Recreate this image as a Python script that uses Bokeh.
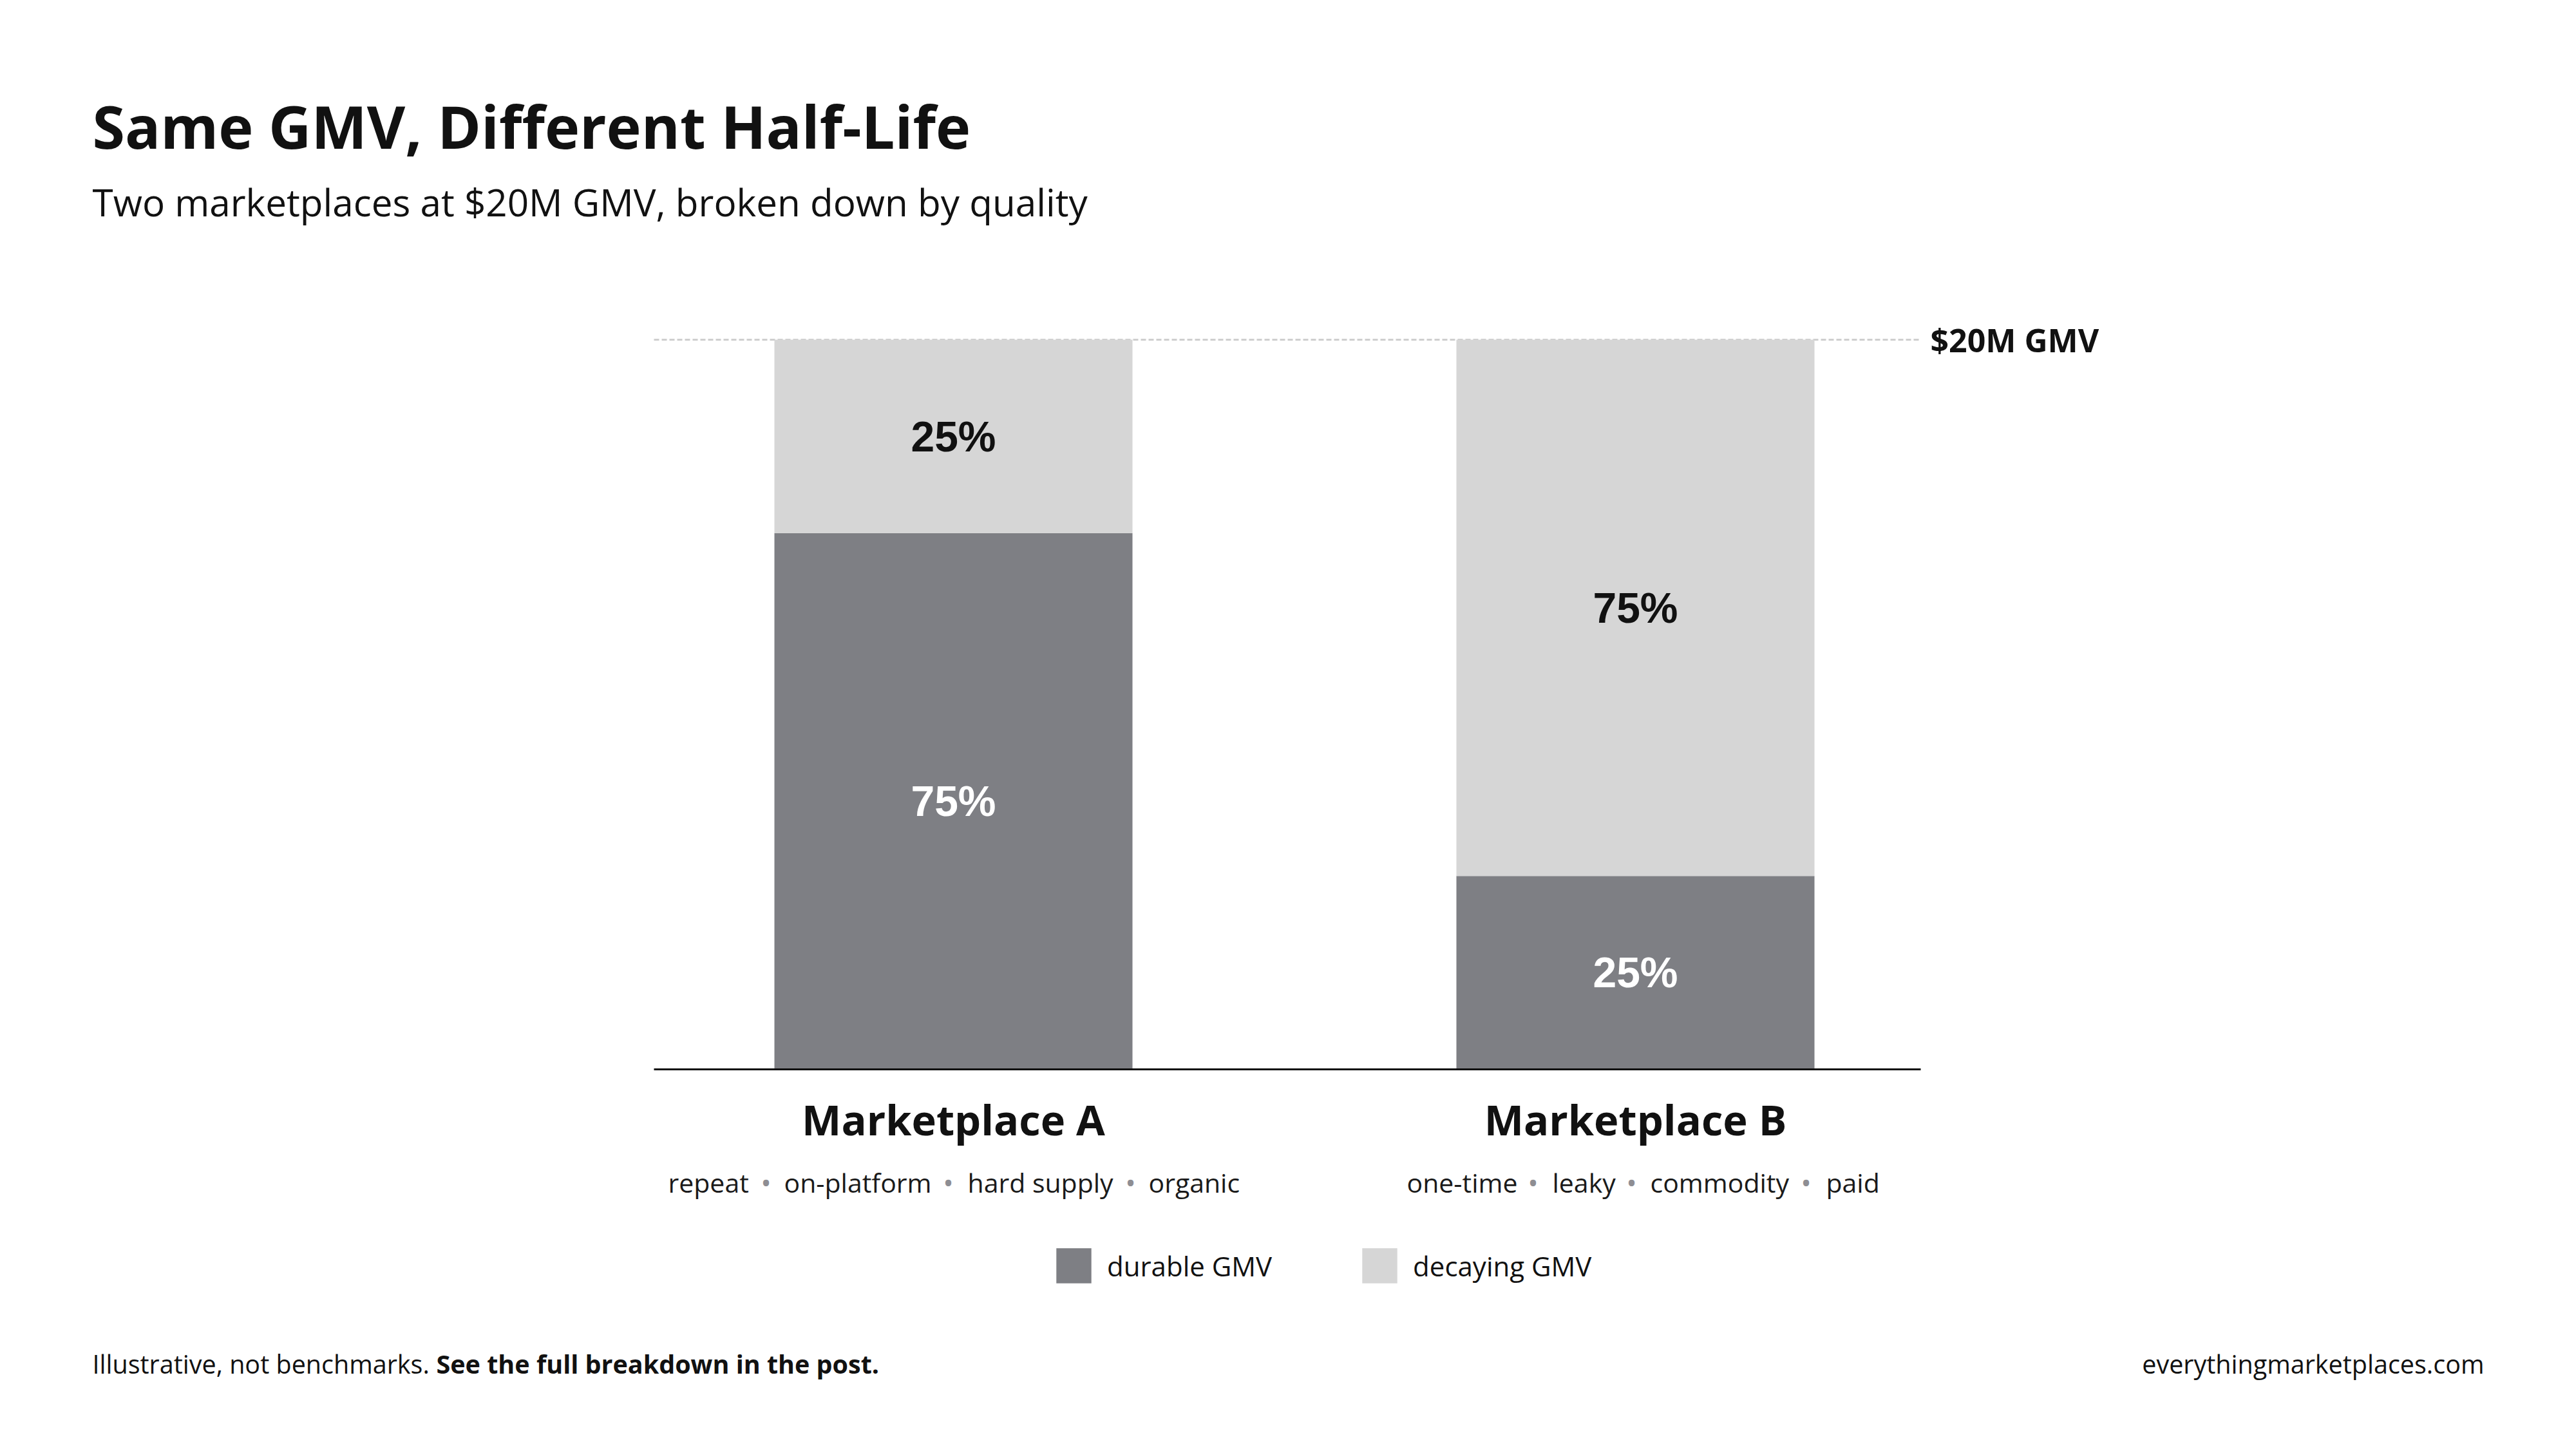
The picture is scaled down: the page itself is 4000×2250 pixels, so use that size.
from bokeh.plotting import figure
from bokeh.models import Range1d, Label, Legend, LegendItem, ColumnDataSource
from bokeh.core.properties import value
from bokeh.embed import file_html
from bokeh.resources import INLINE

# ---------------- data ----------------
categories = ["Marketplace A", "Marketplace B"]
descriptor_words = [["repeat", "on-platform", "hard supply", "organic"],
                    ["one-time", "leaky", "commodity", "paid"]]
durable_gmv = [14.7, 5.3]     # $M
decaying_gmv = [5.3, 14.7]    # $M
durable_pct = ["75%", "25%"]
decaying_pct = ["25%", "75%"]
total_gmv = 20
total_label = "$20M GMV"
series_names = ["durable GMV", "decaying GMV"]

# ---------------- styles / layout ----------------
DARK = "#7e7f84"
LIGHT = "#d6d6d6"
INK = "#111111"
BULLET = "#8e8e93"
FONT = "Open Sans"
PCT_FONT = "Liberation Sans"

W, H = 3984, 2234
# pixel anchors of the chart area on the canvas
PX_FIRST = 1480      # centre of first category
PX_STEP = 1059       # distance between category centres
PY_ZERO = 1660       # baseline (0)
PY_TOP = 527         # total GMV line
AXIS_PX0, AXIS_PX1 = 1015, 2982
BAR_W = 556 / PX_STEP
# horizontal layout of descriptor words / separators (canvas px)
WORD_PX = [[1037, 1217, 1502, 1783], [2184, 2410, 2562, 2835]]
SEP_PX = [[1189, 1472, 1755], [2380, 2533, 2804]]

X_START = -PX_FIRST / PX_STEP
X_END = (W - PX_FIRST) / PX_STEP
YS = (PY_ZERO - PY_TOP) / total_gmv
Y_START = -(H - PY_ZERO) / YS
Y_END = PY_ZERO / YS

def dx(px):
    return X_START + px / PX_STEP
def dy(py):
    return Y_END - py / YS

p = figure(width=W, height=H, output_backend="svg", toolbar_location=None,
           x_range=Range1d(X_START, X_END), y_range=Range1d(Y_START, Y_END),
           x_axis_location=None, y_axis_location=None, min_border=0)
p.background_fill_color = "white"
p.border_fill_color = "white"
p.outline_line_color = None
p.grid.visible = False

xs = list(range(len(categories)))
src = ColumnDataSource(dict(x=xs, durable=durable_gmv, decaying=decaying_gmv))

# reference line at total GMV (behind bars)
p.segment(x0=[dx(AXIS_PX0)], y0=[total_gmv], x1=[dx(AXIS_PX1)], y1=[total_gmv],
          line_color="#cfcfcf", line_width=3, line_dash="8 4")

rs = p.vbar_stack(["durable", "decaying"], x="x", width=BAR_W, source=src,
                  fill_color=[DARK, LIGHT], line_color=None)

# baseline axis line
p.segment(x0=[dx(AXIS_PX0)], y0=[0], x1=[dx(AXIS_PX1)], y1=[0],
          line_color=INK, line_width=3)

# percentage labels inside segments
dur_mid = [d / 2 for d in durable_gmv]
dec_mid = [d + c / 2 for d, c in zip(durable_gmv, decaying_gmv)]
p.text(x=xs, y=dur_mid, text=durable_pct, text_font=value(PCT_FONT),
       text_font_style="bold", text_font_size=value("66px"), text_color="white",
       text_align="center", text_baseline="middle")
p.text(x=xs, y=dec_mid, text=decaying_pct, text_font=value(PCT_FONT),
       text_font_style="bold", text_font_size=value("66px"), text_color=INK,
       text_align="center", text_baseline="middle")

# category labels
p.text(x=xs, y=[dy(1737)] * len(xs), text=categories, text_font=value(FONT),
       text_font_style="bold", text_font_size=value("65px"), text_color=INK,
       text_align="center", text_baseline="middle")

# descriptor words with grey separators
wx, wt, bx = [], [], []
for words, starts, seps in zip(descriptor_words, WORD_PX, SEP_PX):
    for w_, s_ in zip(words, starts):
        wx.append(dx(s_))
        wt.append(w_)
    bx.extend(dx(s_) for s_ in seps)
p.text(x=wx, y=[dy(1835)] * len(wx), text=wt, text_font=value(FONT),
       text_font_size=value("41px"), text_color="#1a1a1a",
       text_align="left", text_baseline="middle")
p.text(x=bx, y=[dy(1835)] * len(bx), text=["\u2022"] * len(bx), text_font=value(FONT),
       text_font_size=value("44px"), text_color=BULLET,
       text_align="center", text_baseline="middle")

# total label
p.add_layout(Label(x=dx(2997), y=total_gmv, text=total_label, text_font=FONT,
                   text_font_style="bold", text_font_size="50px", text_color=INK,
                   text_align="left", text_baseline="middle"))

# title & subtitle
p.add_layout(Label(x=dx(143), y=dy(195), text="Same GMV, Different Half-Life",
                   text_font=FONT, text_font_style="bold", text_font_size="91.6px",
                   text_color=INK, text_align="left", text_baseline="middle"))
p.add_layout(Label(x=dx(143), y=dy(313),
                   text="Two marketplaces at $20M GMV, broken down by quality",
                   text_font=FONT, text_font_size="58.4px", text_color=INK,
                   text_align="left", text_baseline="middle"))

# footer
p.add_layout(Label(x=dx(143), y=dy(2117), text="Illustrative, not benchmarks.",
                   text_font=FONT, text_font_size="39.5px", text_color=INK,
                   text_align="left", text_baseline="middle"))
p.add_layout(Label(x=dx(677), y=dy(2117), text="See the full breakdown in the post.",
                   text_font=FONT, text_font_style="bold", text_font_size="39.5px",
                   text_color=INK, text_align="left", text_baseline="middle"))
p.add_layout(Label(x=dx(3857), y=dy(2117), text="everythingmarketplaces.com",
                   text_font=FONT, text_font_size="39.5px", text_color=INK,
                   text_align="right", text_baseline="middle"))

# legend (area legend glyph is inset by 10% of the glyph box)
GLYPH = 68
INSET = round(0.1 * GLYPH)
legend = Legend(items=[LegendItem(label=n, renderers=[r]) for n, r in zip(series_names, rs)],
                orientation="horizontal", location=(1640 - INSET, H - 1992 - INSET),
                glyph_width=GLYPH, glyph_height=GLYPH, label_height=GLYPH,
                label_text_font=FONT, label_text_font_size="42px", label_text_color=INK,
                label_standoff=18, spacing=133, padding=0, margin=0,
                border_line_color=None, background_fill_alpha=0)
p.add_layout(legend)

open("out.html", "w").write(file_html(p, INLINE, "Same GMV, Different Half-Life"))
